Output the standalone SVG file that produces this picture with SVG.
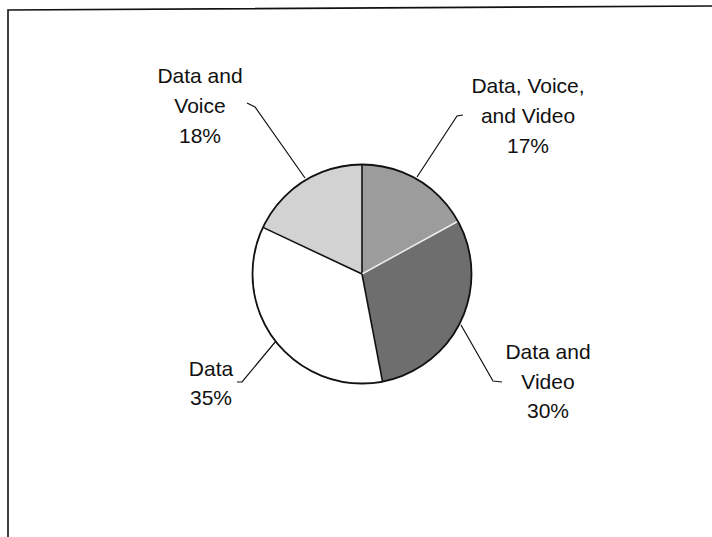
<svg xmlns="http://www.w3.org/2000/svg" width="712" height="537" viewBox="0 0 712 537">
<style>
  text { font-family: "Liberation Sans", Arial, sans-serif; font-size: 21px; fill: #111; text-anchor: middle; }
  .lead { fill: none; stroke: #111; stroke-width: 1.2; }
  .edge { stroke: #111; stroke-width: 1.6; }
</style>
<rect x="0" y="0" width="712" height="537" fill="#fff"/>
<polyline points="8,537 8,10 712,6" fill="none" stroke="#111" stroke-width="1.6"/>
<g id="pie">
  <g id="slice-dvv"><path d="M362,274 L362,164.5 A109.5,109.5 0 0 1 457.95,221.24 Z" fill="#9c9c9c"/></g>
  <g id="slice-dvid"><path d="M362,274 L457.95,221.24 A109.5,109.5 0 0 1 382.52,381.56 Z" fill="#6e6e6e"/></g>
  <g id="slice-data"><path d="M362,274 L382.52,381.56 A109.5,109.5 0 0 1 262.92,227.37 Z" fill="#fff"/></g>
  <g id="slice-dv"><path d="M362,274 L262.92,227.37 A109.5,109.5 0 0 1 362,164.5 Z" fill="#d2d2d2"/></g>
  <line class="edge" x1="362" y1="274" x2="362" y2="164.5"/>
  <line x1="362" y1="274" x2="457.95" y2="221.24" stroke="#eee" stroke-width="1.5"/>
  <line class="edge" x1="362" y1="274" x2="382.52" y2="381.56"/>
  <line class="edge" x1="362" y1="274" x2="262.92" y2="227.37"/>
  <circle cx="362" cy="274" r="109.5" fill="none" stroke="#111" stroke-width="1.8"/>
</g>
<g id="connectors">
  <polyline class="lead" points="247,103 255,107 305,178"/>
  <polyline class="lead" points="463,115 457,116 417,177"/>
  <polyline class="lead" points="461,325 493,381 502,382"/>
  <polyline class="lead" points="237,382 242,382 276,341"/>
</g>
<g id="label-dv">
  <text x="200" y="83">Data and</text>
  <text x="200" y="113">Voice</text>
  <text x="200" y="143">18%</text>
</g>
<g id="label-dvv">
  <text x="528" y="93">Data, Voice,</text>
  <text x="528" y="123">and Video</text>
  <text x="528" y="153">17%</text>
</g>
<g id="label-dvid">
  <text x="548" y="359">Data and</text>
  <text x="548" y="389">Video</text>
  <text x="548" y="418">30%</text>
</g>
<g id="label-data">
  <text x="211" y="376">Data</text>
  <text x="211" y="405">35%</text>
</g>
</svg>
